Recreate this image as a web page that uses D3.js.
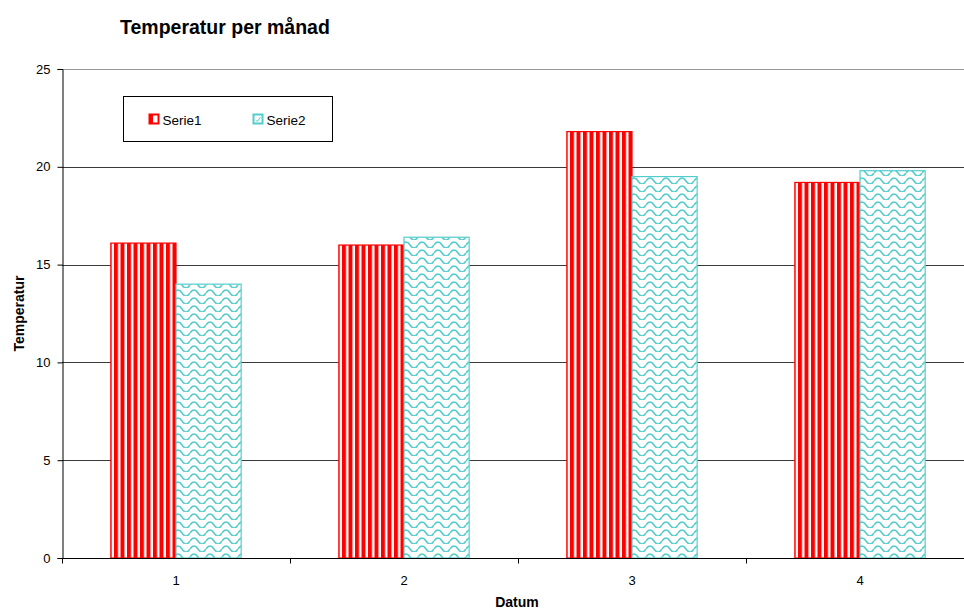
<!DOCTYPE html>
<html>
<head>
<meta charset="utf-8">
<script src="https://cdn.jsdelivr.net/npm/d3@7"></script>
<style>
  body { margin: 0; background: #fff; }
  svg { font-family: "Liberation Sans", Arial, sans-serif; }
</style>
</head>
<body>
<svg id="canvas" width="964" height="609"></svg>
<script>
// Chart data
var categories = ['1', '2', '3', '4'];
var seriesNames = ['Serie1', 'Serie2'];
var serie1 = [16.1, 16.0, 21.8, 19.2];
var serie2 = [14.0, 16.4, 19.5, 19.8];
var yTicks = [0, 5, 10, 15, 20, 25];

var margin = { top: 69, left: 62, bottom: 51 };
var plotWidth = 912;
var plotHeight = 609 - margin.top - margin.bottom;

var svg = d3.select('#canvas');
var defs = svg.append('defs');

// vertical red stripes
var p1 = defs.append('pattern')
  .attr('id', 'stripes')
  .attr('patternUnits', 'userSpaceOnUse')
  .attr('width', 6.5).attr('height', 10);
p1.append('rect').attr('width', 6.5).attr('height', 10).attr('fill', '#fff');
p1.append('rect').attr('width', 4).attr('height', 10).attr('fill', '#ff0000');

// cyan waves
var p2 = defs.append('pattern')
  .attr('id', 'waves')
  .attr('patternUnits', 'userSpaceOnUse')
  .attr('width', 16).attr('height', 8);
p2.append('rect').attr('width', 16).attr('height', 8).attr('fill', '#fff');
p2.append('path')
  .attr('d', 'M0,5 C2.5,1 5.5,1 8,5 C10.5,9 13.5,9 16,5')
  .attr('fill', 'none')
  .attr('stroke', '#55cccc')
  .attr('stroke-width', 1.5);

var x0 = d3.scaleBand()
  .domain(categories)
  .range([margin.left, margin.left + plotWidth]);

var inner = x0.bandwidth() / 3.5;
var x1 = d3.scaleBand()
  .domain(seriesNames)
  .range([0.75 * inner, 2.75 * inner]);

var y = d3.scaleLinear()
  .domain([0, 25])
  .range([margin.top + plotHeight, margin.top]);

// gridlines
svg.append('g')
  .selectAll('line')
  .data(yTicks.filter(function (d) { return d > 0; }))
  .enter().append('line')
  .attr('x1', margin.left).attr('x2', margin.left + plotWidth)
  .attr('y1', function (d) { return Math.round(y(d)) + 0.5; })
  .attr('y2', function (d) { return Math.round(y(d)) + 0.5; })
  .attr('stroke', function (d) { return d === 25 ? '#999' : '#3a3a3a'; })
  .attr('stroke-width', 1);

// bars
var rows = categories.map(function (c, i) {
  return { cat: c, values: [serie1[i], serie2[i]] };
});

var groups = svg.append('g').selectAll('g')
  .data(rows)
  .enter().append('g')
  .attr('transform', function (d) { return 'translate(' + x0(d.cat) + ',0)'; });

groups.selectAll('rect')
  .data(function (d) { return d.values.map(function (v, j) { return { s: seriesNames[j], v: v, j: j }; }); })
  .enter().append('rect')
  .attr('x', function (d) { return x1(d.s); })
  .attr('y', function (d) { return y(d.v); })
  .attr('width', x1.bandwidth())
  .attr('height', function (d) { return y(0) - y(d.v); })
  .attr('fill', function (d) { return d.j === 0 ? 'url(#stripes)' : 'url(#waves)'; })
  .attr('stroke', function (d) { return d.j === 0 ? '#ff0000' : '#55cccc'; })
  .attr('stroke-width', 1.2);

// y axis
var yAxis = svg.append('g')
  .attr('transform', 'translate(' + (margin.left + 0.5) + ',0)')
  .call(d3.axisLeft(y).tickValues(yTicks).tickSize(5).tickPadding(7));
yAxis.select('.domain').attr('stroke', '#000');
yAxis.selectAll('text').attr('font-size', 13).attr('fill', '#000')
  .attr('font-family', '"Liberation Sans", Arial, sans-serif');

// x axis
var xAxisG = svg.append('g')
  .attr('transform', 'translate(0,' + (Math.round(y(0)) + 0.5) + ')');
xAxisG.append('line')
  .attr('x1', margin.left).attr('x2', margin.left + plotWidth)
  .attr('stroke', '#000');
xAxisG.selectAll('.tick')
  .data(categories.concat(['end']))
  .enter().append('line')
  .attr('x1', function (d, i) { return Math.round(margin.left + i * x0.bandwidth()) + 0.5; })
  .attr('x2', function (d, i) { return Math.round(margin.left + i * x0.bandwidth()) + 0.5; })
  .attr('y1', 0).attr('y2', 5)
  .attr('stroke', '#000');
xAxisG.selectAll('text')
  .data(categories)
  .enter().append('text')
  .attr('x', function (d) { return x0(d) + x0.bandwidth() / 2; })
  .attr('y', 26)
  .attr('text-anchor', 'middle')
  .attr('font-size', 13)
  .text(function (d) { return d; });

// titles
svg.append('text')
  .attr('x', 120).attr('y', 34)
  .attr('font-size', 19.5).attr('font-weight', 'bold')
  .text('Temperatur per månad');

svg.append('text')
  .attr('transform', 'translate(24,' + (margin.top + plotHeight / 2) + ') rotate(-90)')
  .attr('text-anchor', 'middle')
  .attr('font-size', 14).attr('font-weight', 'bold')
  .text('Temperatur');

svg.append('text')
  .attr('x', 517).attr('y', 607)
  .attr('text-anchor', 'middle')
  .attr('font-size', 14).attr('font-weight', 'bold')
  .text('Datum');

// legend
var legend = svg.append('g').attr('transform', 'translate(123.5,96.5)');
legend.append('rect')
  .attr('width', 209).attr('height', 45)
  .attr('fill', '#fff').attr('stroke', '#000');

var legendItems = legend.selectAll('.item')
  .data(seriesNames)
  .enter().append('g')
  .attr('transform', function (d, i) { return 'translate(' + (26 + i * 104) + ',18)'; });

legendItems.append('rect')
  .attr('width', 9).attr('height', 9)
  .attr('fill', '#fff')
  .attr('stroke', function (d, i) { return i === 0 ? '#ff0000' : '#55cccc'; })
  .attr('stroke-width', 2);
legendItems.filter(function (d, i) { return i === 0; })
  .append('rect')
  .attr('x', 0).attr('y', 0).attr('width', 3.5).attr('height', 9)
  .attr('fill', '#ff0000');
legendItems.filter(function (d, i) { return i === 1; })
  .append('path')
  .attr('d', 'M2,5.5 L4,7 L7,2.5')
  .attr('fill', 'none').attr('stroke', '#55cccc').attr('stroke-width', 1);

legendItems.append('text')
  .attr('x', 13).attr('y', 10)
  .attr('font-size', 13.5)
  .text(function (d) { return d; });
</script>
</body>
</html>
